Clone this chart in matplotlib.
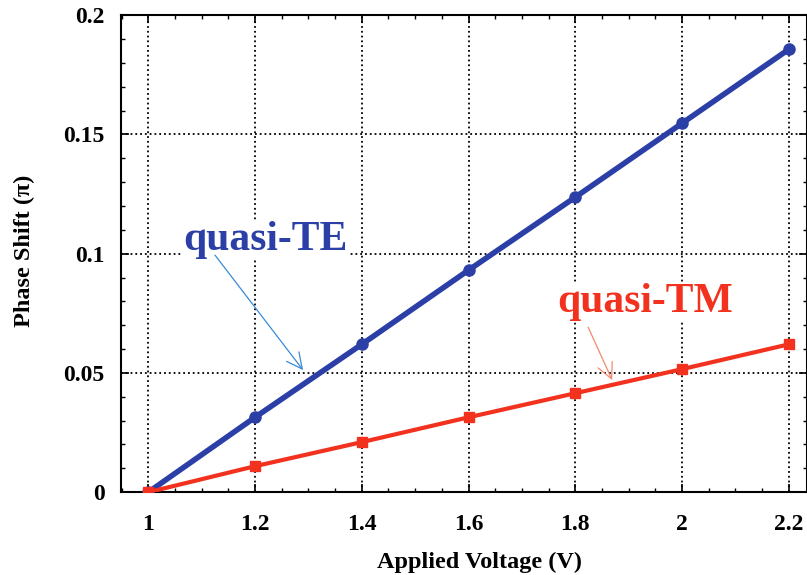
import matplotlib
matplotlib.use("Agg")
import matplotlib.pyplot as plt
from matplotlib.ticker import MultipleLocator

voltage = [1.0, 1.2, 1.4, 1.6, 1.8, 2.0, 2.2]
shift_te = [0.0, 0.0314, 0.062, 0.0931, 0.1237, 0.1547, 0.1857]
shift_tm = [0.0, 0.0109, 0.021, 0.0314, 0.0415, 0.0516, 0.062]
x_labels = ["1", "1.2", "1.4", "1.6", "1.8", "2", "2.2"]
y_ticks = [0, 0.05, 0.1, 0.15, 0.2]
y_labels = ["0", "0.05", "0.1", "0.15", "0.2"]

BLUE = "#2b3fa6"
RED = "#f2321e"

plt.rcParams['font.family'] = ['Liberation Serif', 'DejaVu Serif']
plt.rcParams['font.weight'] = 'bold'

fig = plt.figure(figsize=(8.07, 5.75), dpi=100)
ax = fig.add_axes([0.150, 0.144, 0.85, 0.8296])

ax.plot(voltage, shift_te, color=BLUE, lw=4, marker='o', ms=8, zorder=4)
ax.plot(voltage, shift_tm, color=RED, lw=3, marker='s', ms=7, zorder=4)

ax.set_xlim(0.949, 2.234)
ax.set_ylim(0, 0.2)
ax.xaxis.set_minor_locator(MultipleLocator(0.05))
ax.yaxis.set_minor_locator(MultipleLocator(0.01))
ax.set_xticks(voltage)
ax.set_xticklabels(x_labels)
ax.set_yticks(y_ticks)
ax.set_yticklabels(y_labels)
ax.tick_params(which='both', direction='in', top=True, right=True)
ax.tick_params(which='major', length=6, width=1.2, labelsize=17)
ax.tick_params(axis='x', which='major', pad=16)
ax.tick_params(axis='y', which='major', pad=12)
ax.tick_params(which='minor', length=3, width=1)
for lbl in ax.get_xticklabels() + ax.get_yticklabels():
    lbl.set_fontweight('bold')
for s in ax.spines.values():
    s.set_linewidth(1.5)

ax.grid(True, which='major', color='black', ls=':', lw=1.3)

ax.set_xlabel("Applied Voltage (V)", fontsize=17.5, fontweight='bold')
ax.set_ylabel("Phase Shift (\u03c0)", fontsize=17.5, fontweight='bold')
ax.xaxis.set_label_coords(0.523, -0.124)
ax.yaxis.set_label_coords(-0.125, 0.505)

# labels with white boxes hiding the grid behind them
ax.text(1.219, 0.1057, "quasi-TE", color=BLUE, fontsize=30, fontweight='bold',
        ha='center', va='center', bbox=dict(fc='white', ec='none', pad=1), zorder=5)
ax.text(1.931, 0.0797, "quasi-TM", color=RED, fontsize=30, fontweight='bold',
        ha='center', va='center', bbox=dict(fc='white', ec='none', pad=1), zorder=5)

ax.annotate("", xy=(1.290, 0.0512), xytext=(1.125, 0.0994),
            arrowprops=dict(arrowstyle='->', color='#3a8ad8', lw=0.9,
                            shrinkA=0, shrinkB=0, mutation_scale=28), zorder=5)
ax.annotate("", xy=(1.869, 0.047), xytext=(1.824, 0.0692),
            arrowprops=dict(arrowstyle='->', color='#f08a70', lw=0.9,
                            shrinkA=0, shrinkB=0, mutation_scale=28), zorder=5)

fig.savefig("out.png", dpi=100)
